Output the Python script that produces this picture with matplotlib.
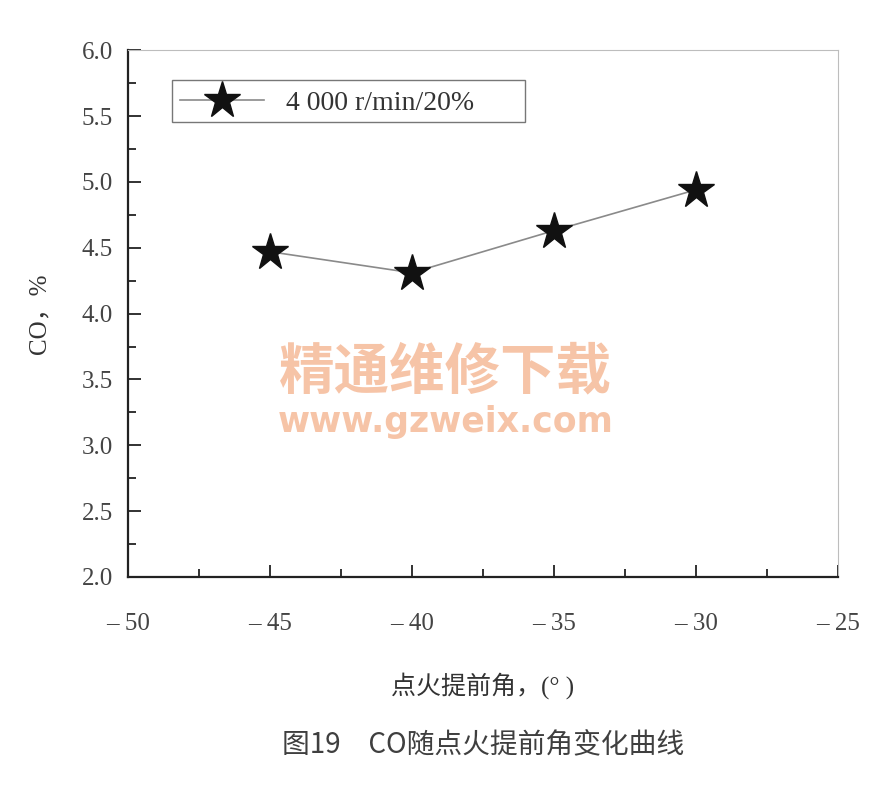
import matplotlib

matplotlib.use("Agg")
import matplotlib.pyplot as plt
from matplotlib.patches import Rectangle
from matplotlib.ticker import MultipleLocator

# data
angle = [-45, -40, -35, -30]
co_pct = [4.47, 4.31, 4.63, 4.94]
series_label = "4 000 r/min/20%"
xticks = [-50, -45, -40, -35, -30, -25]
xtick_labels = ["\u2013 50", "\u2013 45", "\u2013 40", "\u2013 35", "\u2013 30", "\u2013 25"]
yticks = [2.0, 2.5, 3.0, 3.5, 4.0, 4.5, 5.0, 5.5, 6.0]

serif = ["Liberation Serif", "Noto Sans CJK SC", "DejaVu Serif"]
cjk = ["Noto Sans CJK SC", "DejaVu Sans"]
ink = "#333333"

fig = plt.figure(figsize=(8.95, 7.85), dpi=100)
ax = fig.add_axes([0.143, 0.265, 0.793, 0.671])

ax.plot(angle, co_pct, color="#8a8a8a", linewidth=1.2, marker="*",
        markersize=28, markerfacecolor="#111111", markeredgecolor="#111111",
        label=series_label)

ax.set_xlim(-50, -25)
ax.set_ylim(2.0, 6.0)
ax.set_xticks(xticks)
ax.set_xticklabels(xtick_labels, family=serif, fontsize=18, color="#444444")
ax.set_yticks(yticks)
ax.set_yticklabels([f"{v:.1f}" for v in yticks], family=serif, fontsize=18, color="#444444")
ax.xaxis.set_minor_locator(MultipleLocator(2.5))
ax.yaxis.set_minor_locator(MultipleLocator(0.25))
ax.tick_params(which="both", direction="in", color="#222222", width=1.3)
ax.tick_params(which="major", length=9)
ax.tick_params(which="minor", length=6)
ax.tick_params(axis="x", pad=26)
ax.tick_params(axis="y", pad=11)

ax.spines["left"].set_color("#222222")
ax.spines["bottom"].set_color("#222222")
ax.spines["left"].set_linewidth(1.6)
ax.spines["bottom"].set_linewidth(1.6)
ax.spines["top"].set_color("#bdbdbd")
ax.spines["right"].set_color("#bdbdbd")
ax.spines["top"].set_linewidth(0.8)
ax.spines["right"].set_linewidth(0.8)

ax.set_ylabel("CO\uff0c%", family=serif, fontsize=18, color=ink, labelpad=22)
ax.set_xlabel("点火提前角，(\u00b0 )", family=serif, fontsize=18, color=ink, labelpad=27)

# legend: box drawn separately, it is wider than the entry
ax.add_patch(Rectangle((0.062, 0.863), 0.497, 0.080, transform=ax.transAxes,
                       fill=False, edgecolor="#777777", linewidth=1.0, zorder=4))
leg = ax.legend(loc="center left", bbox_to_anchor=(0.066, 0.900), frameon=False,
                prop={"family": serif, "size": 20}, handlelength=3.0,
                borderaxespad=0.0, borderpad=0.2, handletextpad=0.8)
for t in leg.get_texts():
    t.set_color(ink)

# site watermark as seen in the reference
fig.text(0.498, 0.525, "精通维修下载", family=cjk, fontsize=40, fontweight="bold",
         color="#f4b08a", alpha=0.75, ha="center", va="center")
fig.text(0.498, 0.463, "www.gzweix.com", family=["DejaVu Sans"], fontsize=25,
         fontweight="bold", color="#f4b08a", alpha=0.75, ha="center", va="center")

fig.text(0.54, 0.05, "图19\u3000CO随点火提前角变化曲线", family=cjk, fontsize=20,
         fontweight="medium", color="#3f3f3f", ha="center", va="center")

fig.savefig("out.png", dpi=100)
